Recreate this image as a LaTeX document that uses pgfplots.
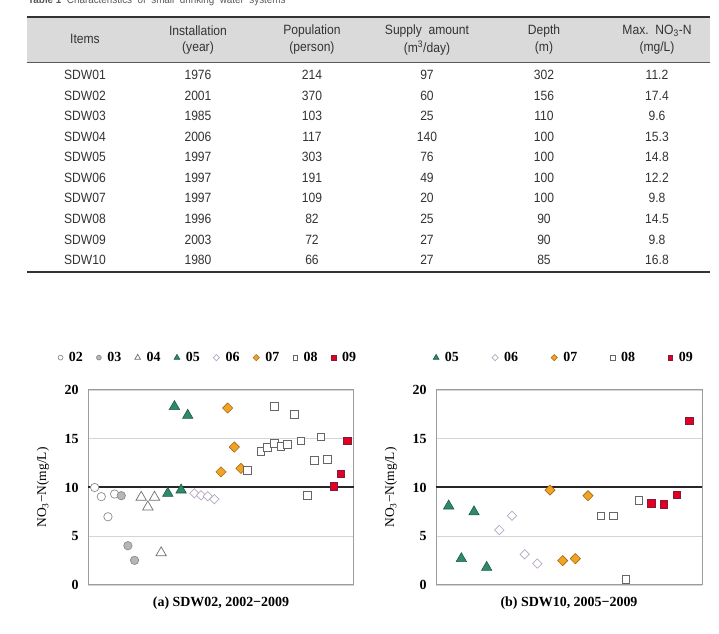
\documentclass[border=0pt]{standalone}
\usepackage{pgfplots}
\pgfplotsset{compat=1.18}
\usepackage{fontspec}
\setmainfont{Liberation Serif}
\newfontfamily\tabfont[FakeStretch=0.9]{Liberation Sans}

\definecolor{frame}{HTML}{9C9C9C}
\definecolor{gridc}{HTML}{D4D4D4}
\definecolor{hdr}{HTML}{DADADA}
\definecolor{tabtext}{HTML}{333333}
\definecolor{ringgray}{HTML}{8C8C8C}
\definecolor{dotfill}{HTML}{B6B6BA}
\definecolor{opendark}{HTML}{6E6E6E}
\definecolor{grn}{HTML}{2E8A68}
\definecolor{grnedge}{HTML}{1D5C45}
\definecolor{diaedge}{HTML}{B6A6C2}
\definecolor{org}{HTML}{F2A324}
\definecolor{orgedge}{HTML}{A06A14}
\definecolor{sqedge}{HTML}{666666}
\definecolor{redsq}{HTML}{E2001C}
\definecolor{rededge}{HTML}{7E1B48}

\pgfplotsset{
  s02/.style={only marks, mark=*, mark size=4.2bp, mark options={fill=white, draw=ringgray, line width=0.7bp}},
  s03/.style={only marks, mark=*, mark size=4.2bp, mark options={fill=dotfill, draw=ringgray, line width=0.7bp}},
  s04/.style={only marks, mark=triangle*, mark size=6bp, mark options={fill=white, draw=opendark, line width=0.7bp}},
  s05/.style={only marks, mark=triangle*, mark size=6bp, mark options={fill=grn, draw=grnedge, line width=0.6bp}},
  s06/.style={only marks, mark=square*, mark size=3.3bp, mark options={rotate=45, fill=white, draw=diaedge, line width=0.7bp}},
  s07/.style={only marks, mark=square*, mark size=3.6bp, mark options={rotate=45, fill=org, draw=orgedge, line width=0.6bp}},
  s08/.style={only marks, mark=square*, mark size=3.8bp, mark options={fill=white, draw=sqedge, line width=0.7bp}},
  s09/.style={only marks, mark=square*, mark size=3.8bp, mark options={fill=redsq, draw=rededge, line width=0.7bp}},
  ntaxis/.style={
    scale only axis, width=266bp, height=195bp,
    ymin=0, ymax=20, ytick={0,5,10,15,20},
    xtick=\empty, major tick length=0pt,
    axis line style={draw=frame, line width=1bp},
    ymajorgrids, grid style={draw=gridc, line width=0.6bp},
    /pgf/number format/assume math mode=true,
    tick label style={font=\fontsize{14}{14}\selectfont\bfseries},
    yticklabel style={xshift=-6bp},
    ylabel={NO\textsubscript{3}−N(mg/L)},
    ylabel style={font=\fontsize{13.5}{14}\selectfont, at={([xshift=-45bp]rel axis cs:0,0.5)}, anchor=center},
    xlabel style={font=\fontsize{14}{14}\selectfont\bfseries, at={(rel axis cs:0.5,0)}, anchor=center, yshift=-18bp},
    legend image code/.code={\draw[#1] plot coordinates {(0bp,0bp)};},
    legend style={draw=none, fill=none, inner sep=0pt, font=\fontsize{14}{14}\selectfont\bfseries,
      legend columns=-1, anchor=west, nodes={inner sep=1bp},
      /tikz/every odd column/.append style={column sep=5bp}},
    clip=false,
  },
}

\begin{document}
\begin{tikzpicture}
\path[use as bounding box] (0bp,0bp) rectangle (719bp,634bp);

% ---------------- Table 1 ----------------
\begin{scope}[shift={(0bp,634bp)}, x=1bp, y=-1bp]
  \node[anchor=base west, inner sep=0, font=\tabfont\fontsize{11}{11}\selectfont, text=black!65]
    at (28,3.5) {\textbf{Table 1}\ \ Characteristics\ \ of\ \ small\ \ drinking\ \ water\ \ systems};
  \fill[hdr] (27,17) rectangle (710,63);
  \draw[line width=1.8bp, black!80] (27,17) -- (710,17);
  \draw[line width=1bp, black!65] (27,63) -- (710,63);
  \draw[line width=1.8bp, black!80] (27,272) -- (710,272);
  \begin{scope}[every node/.style={font=\tabfont\fontsize{13.5}{14}\selectfont, text=tabtext, inner sep=0}]
    \node at (85,39) {Items};
    \node at (198,31) {Installation}; \node at (198,48) {(year)};
    \node at (312,31) {Population};   \node at (312,48) {(person)};
    \node at (427,31) {Supply\ \ amount}; \node at (427,48) {(m\textsuperscript{3}/day)};
    \node at (544,31) {Depth};        \node at (544,48) {(m)};
    \node at (657,31) {Max.\ \ NO\textsubscript{3}-N}; \node at (657,48) {(mg/L)};
    \foreach \n/\a/\b/\c/\d/\e [count=\i from 0] in {
        SDW01/1976/214/97/302/11.2,
        SDW02/2001/370/60/156/17.4,
        SDW03/1985/103/25/110/9.6,
        SDW04/2006/117/140/100/15.3,
        SDW05/1997/303/76/100/14.8,
        SDW06/1997/191/49/100/12.2,
        SDW07/1997/109/20/100/9.8,
        SDW08/1996/82/25/90/14.5,
        SDW09/2003/72/27/90/9.8,
        SDW10/1980/66/27/85/16.8}{
      \node at (85,75+20.55*\i)  {\n};
      \node at (198,75+20.55*\i) {\a};
      \node at (312,75+20.55*\i) {\b};
      \node at (427,75+20.55*\i) {\c};
      \node at (544,75+20.55*\i) {\d};
      \node at (657,75+20.55*\i) {\e};
    }
  \end{scope}
\end{scope}

% ---------------- (a) SDW02 ----------------
\begin{axis}[ntaxis, at={(88bp,49bp)}, anchor=south west,
    xmin=-1, xmax=39,
    xlabel={(a) SDW02, 2002−2009},
    legend style={at={(-0.113,1.166)}, /tikz/every even column/.append style={column sep=12.6bp}}]
  \addlegendimage{s02, mark size=2.4bp}\addlegendentry{02}
  \addlegendimage{s03, mark size=2.4bp}\addlegendentry{03}
  \addlegendimage{s04, mark size=3.3bp}\addlegendentry{04}
  \addlegendimage{s05, mark size=3.3bp}\addlegendentry{05}
  \addlegendimage{s06, mark size=2.2bp}\addlegendentry{06}
  \addlegendimage{s07, mark size=2.2bp}\addlegendentry{07}
  \addlegendimage{s08, mark size=2.4bp}\addlegendentry{08}
  \addlegendimage{s09, mark size=2.4bp}\addlegendentry{09}
  \addplot[forget plot, draw=black!85, line width=2bp] coordinates {(-1,10) (39,10)};
  \addplot[s02, forget plot] coordinates {(0,10.0) (1,9.06) (2,7.0) (3,9.33)};
  \addplot[s03, forget plot] coordinates {(4,9.16) (5,4.03) (6,2.53)};
  \addplot[s04, forget plot] coordinates {(7,9.0) (8,8.0) (9,9.0) (10,3.3)};
  \addplot[s05, forget plot] coordinates {(11,9.4) (12,18.3) (13,9.74) (14,17.4)};
  \addplot[s06, forget plot] coordinates {(15,9.4) (16,9.2) (17,9.1) (18,8.8)};
  \addplot[s07, forget plot] coordinates {(19,11.6) (20,18.15) (21,14.15) (22,11.96)};
  \addplot[s08, forget plot] coordinates {(23,11.75) (25,13.7) (26,14.1) (27,18.3) (27,14.5)
      (28,14.2) (29,14.4) (30,17.5) (31,14.8) (32,9.2) (33,12.8) (34,15.2) (35,12.9)};
  \addplot[s09, forget plot] coordinates {(36,10.1) (37,11.4) (38,14.8)};
\end{axis}

% ---------------- (b) SDW10 ----------------
\begin{axis}[ntaxis, at={(436bp,49bp)}, anchor=south west,
    xmin=-1, xmax=20,
    xlabel={(b) SDW10, 2005−2009},
    legend style={at={(-0.011,1.166)}, /tikz/every even column/.append style={column sep=32bp}}]
  \addlegendimage{s05, mark size=3.3bp}\addlegendentry{05}
  \addlegendimage{s06, mark size=2.2bp}\addlegendentry{06}
  \addlegendimage{s07, mark size=2.2bp}\addlegendentry{07}
  \addlegendimage{s08, mark size=2.4bp}\addlegendentry{08}
  \addlegendimage{s09, mark size=2.4bp}\addlegendentry{09}
  \addplot[forget plot, draw=black!85, line width=2bp] coordinates {(-1,10) (20,10)};
  \addplot[s05, forget plot] coordinates {(0,8.1) (1,2.7) (2,7.5) (3,1.8)};
  \addplot[s06, forget plot] coordinates {(4,5.64) (5,7.1) (6,3.15) (7,2.2)};
  \addplot[s07, forget plot] coordinates {(8,9.74) (9,2.5) (10,2.7) (11,9.16)};
  \addplot[s08, forget plot] coordinates {(12,7.1) (13,7.1) (14,0.58) (15,8.7)};
  \addplot[s09, forget plot] coordinates {(16,8.4) (17,8.3) (18,9.23) (19,16.85)};
\end{axis}
\end{tikzpicture}
\end{document}
